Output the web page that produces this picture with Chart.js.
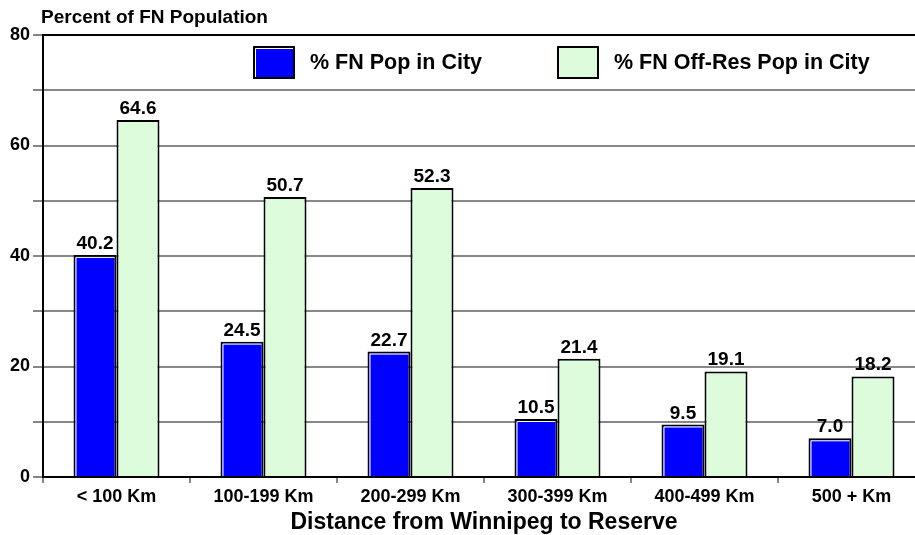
<!DOCTYPE html>
<html>
<head>
<meta charset="utf-8">
<script src="https://cdn.jsdelivr.net/npm/chart.js@4/dist/chart.umd.min.js"></script>
<style>
  html, body { margin: 0; padding: 0; overflow: hidden; background: #fff; }
  #wrap { position: relative; width: 925px; height: 535px; }
</style>
</head>
<body>
<div id="wrap"><canvas id="chart"></canvas></div>
<script>
const categories = ['< 100 Km', '100-199 Km', '200-299 Km', '300-399 Km', '400-499 Km', '500 + Km'];
const popInCity = [40.2, 24.5, 22.7, 10.5, 9.5, 7.0];
const offResPopInCity = [64.6, 50.7, 52.3, 21.4, 19.1, 18.2];
const seriesLabels = ['% FN Pop in City', '% FN Off-Res Pop in City'];
const yCaption = 'Percent of FN Population';
const xCaption = 'Distance from Winnipeg to Reserve';
const yMin = 0, yMax = 80, yStep = 10, yLabelStep = 20;

const FONT = "'Liberation Sans', Arial, Helvetica, sans-serif";
const BLUE = '#0000ff';
const MINT = '#dcfcdc';
const GRID = '#878787';

Chart.defaults.font.family = FONT;
Chart.defaults.color = '#000';

// value labels, bar highlights, caption and legend drawn inside the plot
const extras = {
  id: 'extras',
  afterDatasetsDraw(chart) {
    const ctx = chart.ctx;
    ctx.save();
    // white inner edge on the blue bars
    ctx.strokeStyle = '#fff';
    ctx.lineWidth = 1;
    chart.getDatasetMeta(0).data.forEach(bar => {
      const l = bar.x - bar.width / 2 + 2.5;
      const t = bar.y + 2.5;
      ctx.beginPath();
      ctx.moveTo(l, bar.base);
      ctx.lineTo(l, t);
      ctx.lineTo(bar.x + bar.width / 2 - 2, t);
      ctx.stroke();
    });
    // values above bars
    ctx.fillStyle = '#000';
    ctx.font = 'bold 19px ' + FONT;
    ctx.textAlign = 'center';
    ctx.textBaseline = 'alphabetic';
    chart.data.datasets.forEach((ds, i) => {
      chart.getDatasetMeta(i).data.forEach((bar, j) => {
        ctx.fillText(ds.data[j].toFixed(1), bar.x, bar.y - 6);
      });
    });
    ctx.restore();
  },
  afterDraw(chart, args, opts) {
    const ctx = chart.ctx;
    const area = chart.chartArea;
    ctx.save();
    ctx.fillStyle = '#000';
    ctx.font = 'bold 19px ' + FONT;
    ctx.textAlign = 'left';
    ctx.textBaseline = 'alphabetic';
    ctx.fillText(yCaption, area.left - 2, 23);

    // legend
    const top = area.top + 11;
    const w = 42, h = 33;
    chart.data.datasets.forEach((ds, i) => {
      const x = opts.legendX[i];
      ctx.fillStyle = ds.backgroundColor;
      ctx.fillRect(x, top, w, h);
      ctx.strokeStyle = '#000';
      ctx.lineWidth = 2;
      ctx.strokeRect(x + 1, top + 1, w - 2, h - 2);
      if (i === 0) {
        ctx.strokeStyle = '#fff';
        ctx.lineWidth = 1;
        ctx.beginPath();
        ctx.moveTo(x + 2.5, top + h - 2);
        ctx.lineTo(x + 2.5, top + 2.5);
        ctx.lineTo(x + w - 2, top + 2.5);
        ctx.stroke();
      }
      ctx.fillStyle = '#000';
      ctx.font = 'bold 21.5px ' + FONT;
      ctx.textBaseline = 'middle';
      ctx.fillText(ds.label, x + w + 15, top + h / 2 + 1);
    });
    ctx.restore();
  }
};

new Chart(document.getElementById('chart'), {
  type: 'bar',
  data: {
    labels: categories,
    datasets: [
      {
        label: seriesLabels[0],
        data: popInCity,
        backgroundColor: BLUE,
        borderColor: '#000',
        borderWidth: 2,
        borderSkipped: 'bottom',
      },
      {
        label: seriesLabels[1],
        data: offResPopInCity,
        backgroundColor: MINT,
        borderColor: '#000',
        borderWidth: 2,
        borderSkipped: 'bottom',
      },
    ],
  },
  options: {
    responsive: true,
    maintainAspectRatio: false,
    animation: false,
    categoryPercentage: 0.585,
    barPercentage: 1,
    layout: { padding: { top: 35, left: 0, right: 0, bottom: 0 } },
    plugins: {
      legend: { display: false },
      title: { display: false },
      tooltip: { enabled: false },
      extras: { legendX: [253, 557] },
    },
    scales: {
      x: {
        afterFit: s => { s.height = 58; },
        grid: {
          drawOnChartArea: false,
          drawTicks: true,
          tickLength: 6,
          color: GRID,
          lineWidth: 2,
        },
        border: { display: true, color: '#000', width: 2 },
        ticks: {
          padding: 3,
          font: { size: 18, weight: 'bold' },
          color: '#000',
          maxRotation: 0,
          autoSkip: false,
        },
        title: {
          display: true,
          text: xCaption,
          font: { size: 23, weight: 'bold', lineHeight: 1.05 },
          color: '#000',
          padding: { top: 0, bottom: 0 },
        },
      },
      y: {
        min: yMin,
        max: yMax,
        afterFit: s => { s.width = 43; },
        grid: {
          color: c => (c.tick && c.tick.value === yMax ? '#000' : GRID),
          tickColor: GRID,
          lineWidth: 2,
          tickLength: 10,
        },
        border: { display: true, color: '#000', width: 2 },
        ticks: {
          stepSize: yStep,
          padding: 3,
          font: { size: 18, weight: 'bold' },
          color: '#000',
          callback: v => (v % yLabelStep === 0 ? v : ''),
        },
      },
    },
  },
  plugins: [extras],
});
</script>
</body>
</html>
